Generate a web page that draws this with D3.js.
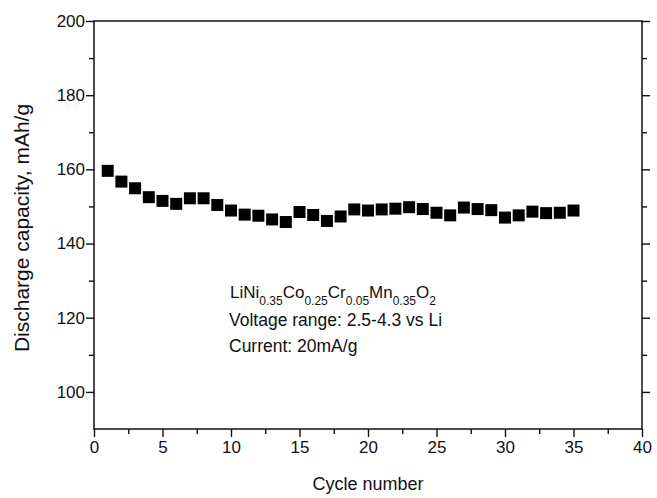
<!DOCTYPE html>
<html>
<head>
<meta charset="utf-8">
<script src="https://cdn.jsdelivr.net/npm/d3@7"></script>
<style>
  body { margin: 0; background: #fff; }
  svg { display: block; font-family: "Liberation Sans", Arial, sans-serif; }
</style>
</head>
<body>
<div id="chart"></div>
<script>
'use strict';

// --- Data
var cycles = [1, 2, 3, 4, 5, 6, 7, 8, 9, 10, 11, 12, 13, 14, 15, 16, 17, 18,
  19, 20, 21, 22, 23, 24, 25, 26, 27, 28, 29, 30, 31, 32, 33, 34, 35];
var capacity = [159.6, 156.7, 154.9, 152.5, 151.5, 150.7, 152.2, 152.2, 150.4, 148.9,
  147.8, 147.5, 146.5, 145.8, 148.5, 147.7, 146.1, 147.3, 149.2, 148.9,
  149.2, 149.4, 149.8, 149.3, 148.3, 147.6, 149.7, 149.3, 149.0, 147.0,
  147.6, 148.6, 148.2, 148.3, 148.9];
var xTicks = [0, 5, 10, 15, 20, 25, 30, 35, 40];
var xMinor = [2.5, 7.5, 12.5, 17.5, 22.5, 27.5, 32.5, 37.5];
var yTicks = [100, 120, 140, 160, 180, 200];
var yMinor = [110, 130, 150, 170, 190];

(function() {
  var width = 657, height = 498;
  var pLeft = 94, pRight = 642, pTop = 21, pBottom = 429;

  var svg = d3.select('#chart').append('svg')
    .attr('width', width)
    .attr('height', height);

  var x = d3.scaleLinear().domain([0, 40]).range([pLeft, pRight]);
  var y = d3.scaleLinear().domain([90, 200]).range([pBottom, pTop]);

  function styleAxis(g) {
    g.select('.domain').remove();
    g.selectAll('line').attr('stroke', '#111').attr('stroke-width', 1.4);
    g.selectAll('text').attr('fill', '#111').attr('font-size', '17px');
  }

  // --- Bottom axis
  svg.append('g')
    .attr('transform', 'translate(0,' + pBottom + ')')
    .call(d3.axisBottom(x).tickValues(xTicks).tickSize(8).tickPadding(4).tickFormat(d3.format('d')))
    .call(styleAxis);
  svg.append('g')
    .attr('transform', 'translate(0,' + pBottom + ')')
    .call(d3.axisBottom(x).tickValues(xMinor).tickSize(5).tickFormat(''))
    .call(styleAxis);

  // --- Left axis
  svg.append('g')
    .attr('transform', 'translate(' + pLeft + ',0)')
    .call(d3.axisLeft(y).tickValues(yTicks).tickSize(8).tickPadding(1).tickFormat(d3.format('d')))
    .call(styleAxis);
  svg.append('g')
    .attr('transform', 'translate(' + pLeft + ',0)')
    .call(d3.axisLeft(y).tickValues(yMinor).tickSize(5).tickFormat(''))
    .call(styleAxis);

  // --- Right axis, ticks pointing in
  svg.append('g')
    .attr('transform', 'translate(' + pRight + ',0)')
    .call(d3.axisLeft(y).tickValues(yTicks).tickSize(-8).tickFormat(''))
    .call(styleAxis);
  svg.append('g')
    .attr('transform', 'translate(' + pRight + ',0)')
    .call(d3.axisLeft(y).tickValues(yMinor).tickSize(-5).tickFormat(''))
    .call(styleAxis);

  // --- Frame
  svg.append('rect')
    .attr('x', pLeft).attr('y', pTop)
    .attr('width', pRight - pLeft).attr('height', pBottom - pTop)
    .attr('fill', 'none')
    .attr('stroke', '#111')
    .attr('stroke-width', 1.5);

  // --- Markers
  var size = 12;
  svg.selectAll('.pt').data(cycles)
    .enter().append('rect')
    .attr('class', 'pt')
    .attr('x', function(d) { return x(d) - size / 2; })
    .attr('y', function(d, i) { return y(capacity[i]) - size / 2; })
    .attr('width', size)
    .attr('height', size)
    .attr('fill', '#000');

  // --- Axis titles
  svg.append('text')
    .attr('x', (pLeft + pRight) / 2)
    .attr('y', 490)
    .attr('text-anchor', 'middle')
    .attr('font-size', '18px')
    .attr('fill', '#111')
    .text('Cycle number');

  svg.append('text')
    .attr('transform', 'translate(29,' + ((pTop + pBottom) / 2 + 3) + ') rotate(-90)')
    .attr('text-anchor', 'middle')
    .attr('font-size', '21px')
    .attr('fill', '#111')
    .text('Discharge capacity, mAh/g');

  // --- Annotation
  var formula = [['LiNi', '0.35'], ['Co', '0.25'], ['Cr', '0.05'], ['Mn', '0.35'], ['O', '2']];
  var f = svg.append('text')
    .attr('x', 230)
    .attr('y', 298)
    .attr('font-size', '17px')
    .attr('fill', '#111');
  formula.forEach(function(p, i) {
    f.append('tspan').attr('dy', i === 0 ? 0 : -7).text(p[0]);
    f.append('tspan').attr('font-size', '12px').attr('dy', 7).text(p[1]);
  });

  svg.append('text')
    .attr('x', 229).attr('y', 326)
    .attr('font-size', '17.5px').attr('fill', '#111')
    .text('Voltage range: 2.5-4.3 vs Li');
  svg.append('text')
    .attr('x', 229).attr('y', 352)
    .attr('font-size', '17.5px').attr('fill', '#111')
    .text('Current: 20mA/g');
})();
</script>
</body>
</html>
